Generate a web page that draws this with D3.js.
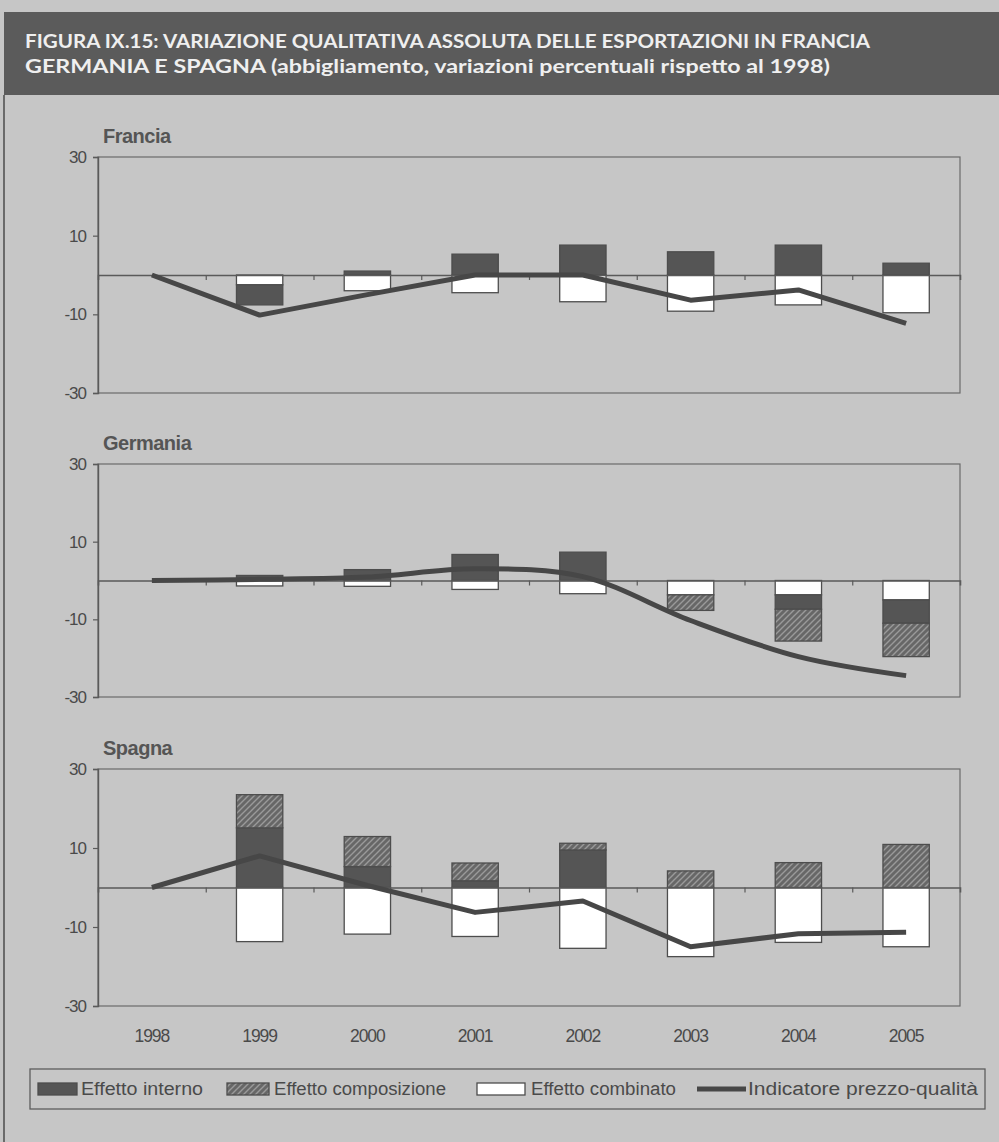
<!DOCTYPE html>
<html>
<head>
<meta charset="utf-8">
<script src="https://cdn.jsdelivr.net/npm/d3@7"></script>
<style>
  html, body { margin: 0; padding: 0; background: #c6c6c6; }
  svg { display: block; }
</style>
</head>
<body>
<svg id="chart" width="999" height="1142"></svg>
<script>
// ---------------- DATA ----------------
const years = ["1998", "1999", "2000", "2001", "2002", "2003", "2004", "2005"];
const yTicks = [30, 10, -10, -30];

const franciaInterno      = [0, -5.1, 1.0, 5.3, 7.6, 5.9, 7.6, 3.0];
const franciaComposizione = [0, 0, 0, 0, 0, 0, 0, 0];
const franciaCombinato    = [0, -2.5, -4.0, -4.5, -6.8, -9.2, -7.6, -9.6];
const franciaIndicatore   = [0, -10.2, -5.0, 0, 0, -6.4, -3.8, -12.3];

const germaniaInterno      = [0, 1.3, 2.8, 6.7, 7.3, 0, -3.7, -6.0];
const germaniaComposizione = [0, 0, 0, 0, 0, -4.0, -8.2, -8.6];
const germaniaCombinato    = [0, -1.4, -1.5, -2.3, -3.4, -3.7, -3.7, -5.0];
const germaniaIndicatore   = [0, 0.3, 0.9, 3.0, 1.0, -10.3, -19.6, -24.5];

const spagnaInterno      = [0, 15.1, 5.3, 1.7, 9.5, 0, 0, 0];
const spagnaComposizione = [0, 8.4, 7.6, 4.5, 1.7, 4.2, 6.3, 10.9];
const spagnaCombinato    = [0, -13.7, -11.8, -12.4, -15.4, -17.5, -13.9, -15.0];
const spagnaIndicatore   = [0, 8.0, 0.5, -6.3, -3.4, -15.0, -11.7, -11.3];

const titleLines = [
  "FIGURA IX.15: VARIAZIONE QUALITATIVA ASSOLUTA DELLE ESPORTAZIONI IN FRANCIA",
  "GERMANIA E SPAGNA (abbigliamento, variazioni percentuali rispetto al 1998)"
];
const legendLabels = ["Effetto interno", "Effetto composizione", "Effetto combinato", "Indicatore prezzo-qualità"];

const panels = [
  { name: "Francia",  interno: franciaInterno,  composizione: franciaComposizione,  combinato: franciaCombinato,  indicatore: franciaIndicatore,  top: 157, bottom: 393, smooth: false },
  { name: "Germania", interno: germaniaInterno, composizione: germaniaComposizione, combinato: germaniaCombinato, indicatore: germaniaIndicatore, top: 464, bottom: 697, smooth: true },
  { name: "Spagna",   interno: spagnaInterno,   composizione: spagnaComposizione,   combinato: spagnaCombinato,   indicatore: spagnaIndicatore,   top: 769, bottom: 1006, smooth: false }
];

// ---------------- STYLE ----------------
const C = {
  bg: "#c6c6c6",
  band: "#5b5b5b",
  titleText: "#efefef",
  dark: "#555555",
  stroke: "#4d4d4d",
  line: "#474747",
  text: "#4a4a4a",
  axis: "#5a5a5a"
};
const plotLeft = 98, plotRight = 960;

const svg = d3.select("#chart");
svg.append("rect").attr("width", 999).attr("height", 1142).attr("fill", C.bg);

const defs = svg.append("defs");
const pat = defs.append("pattern")
  .attr("id", "hatch").attr("patternUnits", "userSpaceOnUse")
  .attr("width", 6).attr("height", 6);
pat.append("rect").attr("width", 6).attr("height", 6).attr("fill", "#676767");
pat.append("path").attr("d", "M0,6 L6,0 M-1.5,1.5 L1.5,-1.5 M4.5,7.5 L7.5,4.5")
  .attr("stroke", "#9a9a9a").attr("stroke-width", 1.4);

// left page border
svg.append("line").attr("x1", 4).attr("x2", 4).attr("y1", 95).attr("y2", 1142)
  .attr("stroke", "#6a6a6a").attr("stroke-width", 2);

// Title band
svg.append("rect").attr("x", 4).attr("y", 12).attr("width", 995).attr("height", 83).attr("fill", C.band);
const titleWidths = [845, 805];
titleLines.forEach((t, i) => {
  svg.append("text")
    .attr("x", 25).attr("y", 48 + i * 25)
    .attr("font-family", "Lato, 'Open Sans', sans-serif")
    .attr("font-weight", 700)
    .attr("font-size", 18)
    .attr("fill", C.titleText)
    .attr("textLength", titleWidths[i])
    .attr("lengthAdjust", "spacingAndGlyphs")
    .text(t);
});

const x = d3.scaleBand().domain(years).range([plotLeft, plotRight]).padding(0);
const barW = x.bandwidth() * 0.43;
const xb = d3.scaleLinear().domain([0, years.length]).range([plotLeft, plotRight]);

const keys = ["combinato", "interno", "composizione"];
const fills = { interno: C.dark, composizione: "url(#hatch)", combinato: "#ffffff" };

panels.forEach((p, pi) => {
  const y = d3.scaleLinear().domain([-30, 30]).range([p.bottom, p.top]);
  const g = svg.append("g");

  // panel label
  g.append("text")
    .attr("x", 103).attr("y", p.top - 14)
    .attr("font-family", "'Liberation Sans', Arial, sans-serif")
    .attr("font-weight", 700).attr("font-size", 20)
    .attr("fill", "#555").attr("letter-spacing", -0.5)
    .text(p.name);

  // plot area border
  g.append("rect")
    .attr("x", plotLeft).attr("y", p.top)
    .attr("width", plotRight - plotLeft).attr("height", p.bottom - p.top)
    .attr("fill", "none").attr("stroke", "#6b6b6b").attr("stroke-width", 1.2);

  // y axis
  const ya = g.append("g").attr("transform", `translate(${plotLeft},0)`)
    .call(d3.axisLeft(y).tickValues(yTicks).tickSize(5).tickPadding(7).tickFormat(d => String(d)));
  ya.select(".domain").attr("stroke", C.axis).attr("stroke-width", 1.4);
  ya.selectAll(".tick line").attr("stroke", C.axis).attr("stroke-width", 1.2);
  ya.selectAll(".tick text")
    .attr("font-family", "'Liberation Sans', Arial, sans-serif")
    .attr("font-size", 17).attr("fill", C.text).attr("letter-spacing", -1);

  // data rows
  const rows = years.map((yr, i) => ({
    year: yr, interno: p.interno[i], composizione: p.composizione[i], combinato: p.combinato[i]
  }));
  const stacked = d3.stack().keys(keys).offset(d3.stackOffsetDiverging)(rows);

  stacked.forEach(series => {
    g.append("g").selectAll("rect")
      .data(series.filter(d => Math.abs(d[1] - d[0]) > 0.05))
      .join("rect")
      .attr("x", d => x(d.data.year) + (x.bandwidth() - barW) / 2)
      .attr("width", barW)
      .attr("y", d => y(Math.max(d[0], d[1])))
      .attr("height", d => Math.abs(y(d[0]) - y(d[1])))
      .attr("fill", fills[series.key])
      .attr("stroke", C.stroke).attr("stroke-width", 1.3);
  });

  // zero axis with category boundary ticks
  const xa = g.append("g").attr("transform", `translate(0,${y(0)})`)
    .call(d3.axisBottom(xb).tickValues(d3.range(1, years.length)).tickSize(5).tickFormat(""));
  xa.select(".domain").attr("stroke", C.axis).attr("stroke-width", 1.6);
  xa.selectAll(".tick line").attr("stroke", C.axis).attr("stroke-width", 1.2);

  // line
  const line = d3.line()
    .x((d, i) => x(years[i]) + x.bandwidth() / 2)
    .y(d => y(d))
    .curve(p.smooth ? d3.curveCatmullRom.alpha(0.5) : d3.curveLinear);
  g.append("path").datum(p.indicatore)
    .attr("d", line)
    .attr("fill", "none").attr("stroke", C.line)
    .attr("stroke-width", 5).attr("stroke-linejoin", "round").attr("stroke-linecap", "butt");

  // year labels for last panel
  if (pi === panels.length - 1) {
    const xl = g.append("g").attr("transform", `translate(0,${p.bottom + 16})`)
      .call(d3.axisBottom(x).tickSize(0).tickPadding(8));
    xl.select(".domain").remove();
    xl.selectAll(".tick text")
      .attr("font-family", "'Liberation Sans', Arial, sans-serif")
      .attr("font-size", 17.5).attr("fill", C.text).attr("letter-spacing", -1);
  }
});

// ---------------- LEGEND ----------------
const lg = svg.append("g");
const lgTop = 1069, lgH = 40;
lg.append("rect").attr("x", 30).attr("y", lgTop).attr("width", 955).attr("height", lgH)
  .attr("fill", "none").attr("stroke", "#5e5e5e").attr("stroke-width", 1.3);
const lgMid = lgTop + lgH / 2;
const items = [
  { type: "rect", fill: C.dark,        x: 38,  sw: 39, tx: 81,  tw: 122 },
  { type: "rect", fill: "url(#hatch)", x: 227, sw: 42, tx: 274, tw: 172 },
  { type: "rect", fill: "#fff",        x: 477, sw: 48, tx: 531, tw: 145 },
  { type: "line",                      x: 697, sw: 49, tx: 748, tw: 230 }
];
items.forEach((it, i) => {
  if (it.type === "rect") {
    lg.append("rect").attr("x", it.x).attr("y", lgMid - 6).attr("width", it.sw).attr("height", 12)
      .attr("fill", it.fill).attr("stroke", C.stroke).attr("stroke-width", 1.3);
  } else {
    lg.append("line").attr("x1", it.x).attr("x2", it.x + it.sw).attr("y1", lgMid).attr("y2", lgMid)
      .attr("stroke", C.line).attr("stroke-width", 5);
  }
  lg.append("text").attr("x", it.tx).attr("y", lgMid).attr("dy", "0.35em")
    .attr("font-family", "'Liberation Sans', Arial, sans-serif")
    .attr("font-size", 18).attr("fill", C.text)
    .attr("textLength", it.tw).attr("lengthAdjust", "spacingAndGlyphs")
    .text(legendLabels[i]);
});
</script>
</body>
</html>
